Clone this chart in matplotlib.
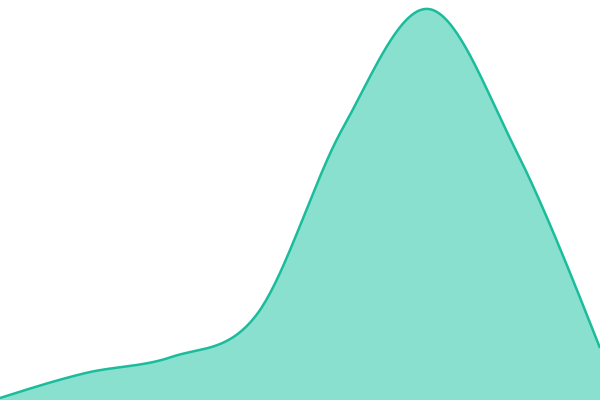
import numpy as np
import matplotlib
matplotlib.use("Agg")
import matplotlib.pyplot as plt

# data
days = [0, 1, 2, 3, 4, 5, 6, 7]
values = [2, 27, 43, 86, 272, 391, 253, 52]


def smooth_curve(xs, ys, n=40):
    # cubic hermite spline, catmull-rom tangents inside, shaped ends
    xs = np.asarray(xs, float)
    ys = np.asarray(ys, float)
    h = np.diff(xs)
    s = np.diff(ys) / h
    m = np.zeros(len(xs))
    for i in range(1, len(xs) - 1):
        m[i] = (ys[i + 1] - ys[i - 1]) / (xs[i + 1] - xs[i - 1])
    m[0] = (3 * s[0] - m[1]) / 2
    m[-1] = (3 * s[-1] - m[-2]) / 2
    out_x, out_y = [], []
    for i in range(len(xs) - 1):
        t = np.linspace(0, 1, n)
        dx = h[i] / 3
        p0, p3 = ys[i], ys[i + 1]
        p1 = p0 + dx * m[i]
        p2 = p3 - dx * m[i + 1]
        y = (1 - t) ** 3 * p0 + 3 * (1 - t) ** 2 * t * p1 + 3 * (1 - t) * t ** 2 * p2 + t ** 3 * p3
        out_x.extend(xs[i] + t * h[i])
        out_y.extend(y)
    return np.array(out_x), np.array(out_y)


sx, sy = smooth_curve(days, values)

fig = plt.figure(figsize=(6, 4), dpi=100)
ax = fig.add_axes([0, 0, 1, 1])
ax.fill_between(sx, sy, 0, color="#8ae0cf", linewidth=0)
ax.plot(sx, sy, color="#1abc9c", linewidth=1.8, solid_capstyle="butt")
ax.set_xlim(0, 7)
ax.set_ylim(0, 400)
ax.axis("off")

fig.savefig("out.png", dpi=100)
